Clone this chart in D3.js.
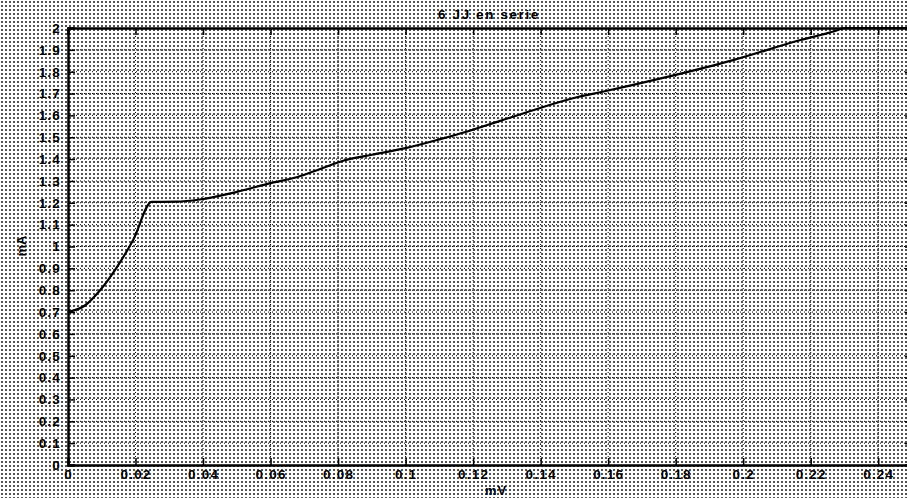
<!DOCTYPE html>
<html><head><meta charset="utf-8">
<script src="https://cdn.jsdelivr.net/npm/d3@7"></script>
<style>
html,body{margin:0;padding:0;background:#fff;}
svg{display:block;font-family:"Liberation Sans",Arial,sans-serif;}
</style></head>
<body>
<svg id="chart" width="907" height="498"></svg>
<script>
const title = "6 JJ en serie";
const xLabel = "mV";
const yLabel = "mA";
const xTicks = [0, 0.02, 0.04, 0.06, 0.08, 0.1, 0.12, 0.14, 0.16, 0.18, 0.2, 0.22, 0.24];
const yTicks = [0, 0.1, 0.2, 0.3, 0.4, 0.5, 0.6, 0.7, 0.8, 0.9, 1, 1.1, 1.2, 1.3, 1.4, 1.5, 1.6, 1.7, 1.8, 1.9, 2];
const xData = [0, 0.005, 0.0095, 0.0145, 0.0193, 0.0248, 0.032, 0.039, 0.05, 0.06, 0.068, 0.0747, 0.082, 0.09, 0.1, 0.11, 0.118, 0.128, 0.138, 0.151, 0.158, 0.1775, 0.197, 0.217, 0.227, 0.23, 0.24, 0.25];
const yData = [0.70, 0.73, 0.80, 0.906, 1.03, 1.204, 1.205, 1.215, 1.25, 1.29, 1.318, 1.355, 1.395, 1.42, 1.45, 1.49, 1.525, 1.575, 1.625, 1.684, 1.707, 1.776, 1.853, 1.945, 1.985, 2.0, 2.0, 2.0];

const svg = d3.select("#chart");
const W = 907, H = 498;
const m = {left: 68, right: 912, top: 28, bottom: 465};
const x = d3.scaleLinear().domain([0, 0.25]).range([m.left, m.right]);
const y = d3.scaleLinear().domain([0, 2]).range([m.bottom, m.top]);

// halftone-like background
const defs = svg.append("defs");
const pat = defs.append("pattern").attr("id","dots").attr("width",4).attr("height",4).attr("patternUnits","userSpaceOnUse");
pat.append("rect").attr("width",4).attr("height",4).attr("fill","#fff");
pat.append("rect").attr("x",1).attr("y",1).attr("width",2).attr("height",2).attr("fill","#000").attr("opacity",0.68);
svg.append("rect").attr("width",W).attr("height",H).attr("fill","url(#dots)");

// grid
const g = svg.append("g");
g.selectAll(".vg").data(xTicks.slice(1)).join("line")
  .attr("x1", d => x(d)).attr("x2", d => x(d)).attr("y1", m.top).attr("y2", m.bottom)
  .attr("stroke","#000").attr("stroke-width",1).attr("stroke-dasharray","1,3");
g.selectAll(".hg").data(yTicks.slice(1, -1)).join("line")
  .attr("x1", m.left).attr("x2", m.right).attr("y1", d => y(d)).attr("y2", d => y(d))
  .attr("stroke","#000").attr("stroke-width",1).attr("stroke-dasharray","1,3");

// axes
const fmt = d => String(d);
const ax = svg.append("g").attr("transform",`translate(0,${m.bottom})`)
  .call(d3.axisBottom(x).tickValues(xTicks).tickSize(-7).tickPadding(7).tickFormat(fmt));
const ay = svg.append("g").attr("transform",`translate(${m.left},0)`)
  .call(d3.axisLeft(y).tickValues(yTicks).tickSize(-7).tickPadding(7).tickFormat(fmt));
const at = svg.append("g").attr("transform",`translate(0,${m.top})`)
  .call(d3.axisTop(x).tickValues(xTicks).tickSize(-7).tickFormat(""));
const ar = svg.append("g").attr("transform",`translate(${m.right},0)`)
  .call(d3.axisRight(y).tickValues(yTicks).tickSize(-7).tickFormat(""));
[ax, ay, at, ar].forEach(a => {
  a.select(".domain").attr("stroke","#000").attr("stroke-width",2.5);
  a.selectAll(".tick line").attr("stroke","#000").attr("stroke-width",1.5);
  a.selectAll("text").attr("fill","#000").attr("font-size",13.5).attr("font-weight","bold")
    .attr("letter-spacing","1.2px")
    .attr("font-family","'Liberation Sans',Arial,sans-serif");
});
ax.selectAll("text").attr("dy","0.55em");

// curve
const pts = xData.map((v, i) => [v, yData[i]]);
svg.append("path").datum(pts)
  .attr("fill","none").attr("stroke","#000").attr("stroke-width",2.2)
  .attr("d", d3.line().x(d => x(d[0])).y(d => y(d[1])).curve(d3.curveMonotoneX));

// labels
svg.append("text").attr("x",489).attr("y",19).attr("text-anchor","middle")
  .attr("font-size",13.5).attr("font-weight","bold").attr("letter-spacing","1.6px").text(title);
svg.append("text").attr("x",496).attr("y",495).attr("text-anchor","middle")
  .attr("font-size",13).attr("font-weight","bold").attr("letter-spacing","1px").text(xLabel);
svg.append("text").attr("transform",`translate(26,246) rotate(-90)`)
  .attr("text-anchor","middle").attr("font-size",13).attr("font-weight","bold").text(yLabel);
</script>
</body></html>
